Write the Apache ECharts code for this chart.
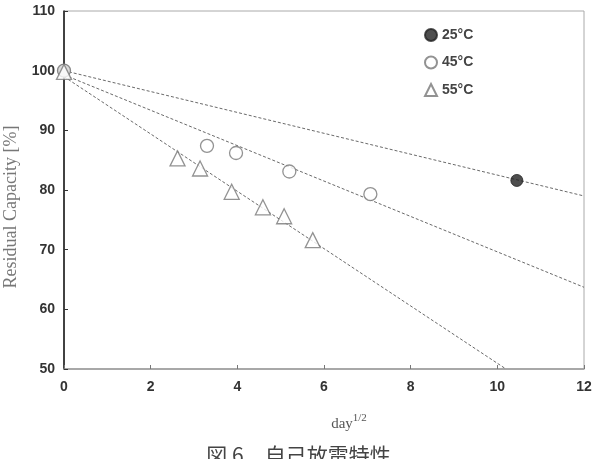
<!DOCTYPE html>
<html>
<head>
<meta charset="utf-8">
<script src="https://cdn.jsdelivr.net/npm/echarts@6/dist/echarts.min.js"></script>
<style>
  html, body { margin: 0; padding: 0; background: #fff; }
  #chart { width: 597px; height: 459px; }
</style>
</head>
<body>
<div id="chart"></div>
<script>
// 測定点 (x = day^1/2, y = 残存容量 %)
const pts25 = [[0, 100], [10.45, 81.6]];
const pts45 = [[0, 100], [3.3, 87.4], [3.97, 86.2], [5.2, 83.1], [7.07, 79.3]];
const pts55 = [[0, 99.8], [2.62, 85.3], [3.14, 83.6], [3.87, 79.7], [4.59, 77.1], [5.08, 75.6], [5.74, 71.6]];

// 近似直線（両端点）
const fit25 = [[0, 100], [12, 79]];
const fit45 = [[0, 99.3], [12, 63.7]];
const fit55 = [[0, 99], [10.2, 50]];

const seriesNames = ['25°C', '45°C', '55°C'];
const caption = '図 6　自己放電特性';

const chart = echarts.init(document.getElementById('chart'));

const fitLine = (data) => ({
  type: 'line',
  data,
  symbol: 'none',
  silent: true,
  z: 1,
  lineStyle: { color: '#6a6a6a', width: 1, type: [3, 2] },
});

const tickFont = { fontFamily: 'Liberation Sans', fontSize: 14, fontWeight: 'bold', color: '#333' };

const option = {
  backgroundColor: '#fff',
  animation: false,
  title: {
    text: caption,
    left: 'center',
    top: 440,
    textStyle: {
      fontFamily: 'Noto Sans CJK JP',
      fontSize: 21,
      fontWeight: 'normal',
      color: '#444',
    },
  },
  legend: {
    data: seriesNames,
    orient: 'vertical',
    left: 419,
    top: 23,
    itemWidth: 12,
    itemHeight: 12,
    itemGap: 13.5,
    textStyle: { fontFamily: 'Liberation Sans', fontSize: 14, fontWeight: 'bold', color: '#444' },
  },
  grid: {
    left: 64,
    right: 13,
    top: 11,
    bottom: 90,
    outerBoundsMode: 'none',
    show: true,
    borderColor: '#aaa',
    borderWidth: 1,
  },
  xAxis: {
    type: 'value',
    min: 0,
    max: 12,
    interval: 2,
    name: '{b|day}{s|1/2}',
    nameLocation: 'middle',
    nameGap: 44,
    nameTextStyle: {
      padding: [0, 0, 0, 50],
      rich: {
        b: { fontFamily: 'Liberation Serif', fontSize: 15, color: '#555', verticalAlign: 'bottom' },
        s: { fontFamily: 'Liberation Serif', fontSize: 11, color: '#555', verticalAlign: 'top', padding: [0, 0, 8, 0] },
      },
    },
    axisLine: { lineStyle: { color: '#999', width: 1.5 } },
    axisTick: { inside: true, length: 4, lineStyle: { color: '#777' } },
    axisLabel: { ...tickFont, margin: 11 },
    splitLine: { show: false },
  },
  yAxis: {
    type: 'value',
    min: 50,
    max: 110,
    interval: 10,
    name: 'Residual Capacity [%]',
    nameLocation: 'middle',
    nameGap: 44,
    nameTextStyle: { fontFamily: 'Liberation Serif', fontSize: 18, color: '#777', padding: [0, 34, 0, 0] },
    axisLine: { lineStyle: { color: '#111', width: 1.5 } },
    axisTick: { inside: true, length: 4, lineStyle: { color: '#333' } },
    axisLabel: { ...tickFont, margin: 9 },
    splitLine: { show: false },
  },
  series: [
    fitLine(fit25),
    fitLine(fit45),
    fitLine(fit55),
    {
      name: seriesNames[0],
      type: 'scatter',
      data: pts25,
      symbol: 'circle',
      symbolSize: 12,
      z: 3,
      itemStyle: { color: '#222', borderColor: '#222', borderWidth: 1 },
    },
    {
      name: seriesNames[1],
      type: 'scatter',
      data: pts45,
      symbol: 'circle',
      symbolSize: 13,
      z: 3,
      itemStyle: { color: '#fff', borderColor: '#777', borderWidth: 1.3 },
    },
    {
      name: seriesNames[2],
      type: 'scatter',
      data: pts55,
      symbol: 'triangle',
      symbolSize: 15,
      z: 4,
      itemStyle: { color: '#fff', borderColor: '#777', borderWidth: 1.3 },
    },
  ],
};

chart.setOption(option);
</script>
</body>
</html>
